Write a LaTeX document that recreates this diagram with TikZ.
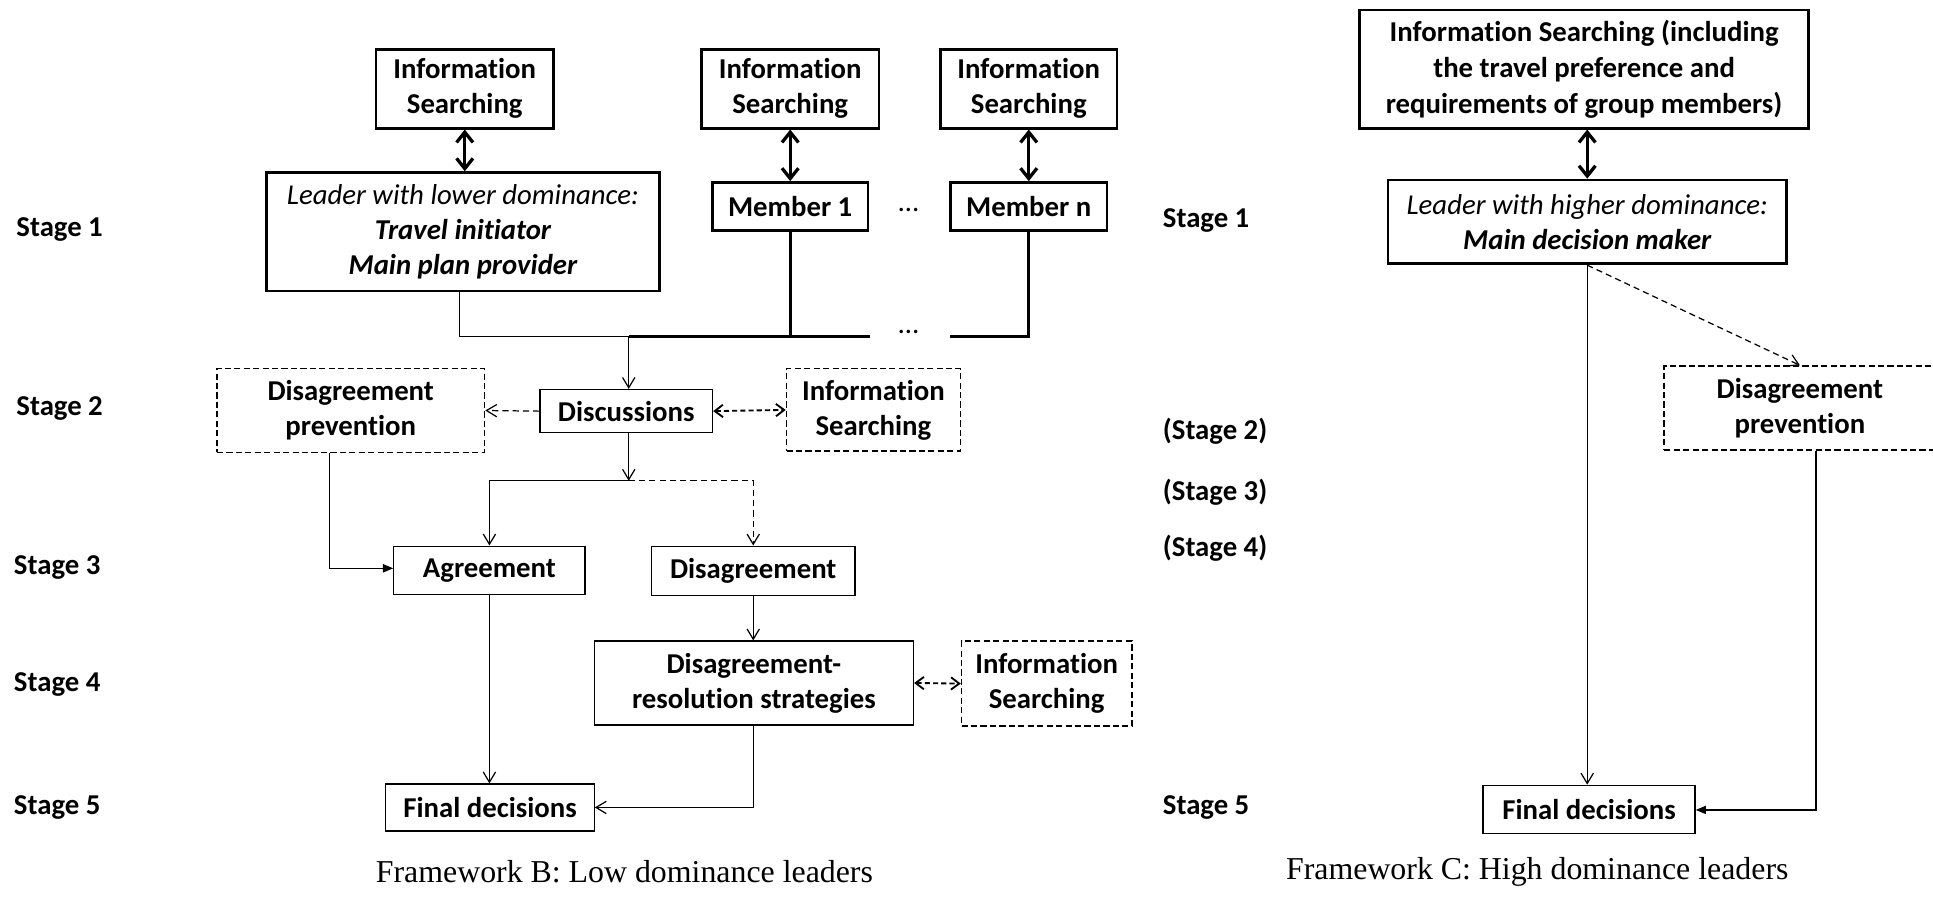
\documentclass[tikz,border=0pt]{standalone}
\usepackage{fontspec}
\setmainfont{Carlito}[Ligatures=NoCommon]
\newfontfamily\capfont{Liberation Serif}
\usetikzlibrary{arrows.meta}
\begin{document}
\begin{tikzpicture}[x=0.6pt,y=-0.6pt,
  every node/.style={font=\fontsize{14}{17}\selectfont\bfseries, inner sep=0pt, align=center},
  sz/.style 2 args={minimum width={#1*0.6pt}, minimum height={#2*0.6pt}},
  tbox/.style={draw, line width=1.3pt},
  nbox/.style={draw, line width=0.6pt},
  dbox/.style={draw, line width=0.8pt, dash pattern=on 3pt off 1.6pt},
  conn/.style={line width=0.6pt},
  thk/.style={line width=1.6pt},
  arr/.style={line width=0.6pt, -{Straight Barb[length=5pt,width=6pt]}},
  arrF/.style={line width=0.6pt, -{Triangle[length=5pt,width=4pt]}},
  dsh/.style={dash pattern=on 3pt off 2pt},
  dblarr/.style={line width=1.6pt, {Straight Barb[length=5pt,width=8pt]}-{Straight Barb[length=5pt,width=8pt]}},
  ddarr/.style={line width=0.9pt, dash pattern=on 2.5pt off 1.5pt, {Straight Barb[length=4pt,width=6pt]}-{Straight Barb[length=4pt,width=6pt]}},
  stagelbl/.style={anchor=west},
  captxt/.style={font=\capfont\fontsize{15.5}{18}\selectfont}
]
\useasboundingbox (0,0) rectangle (1568,746);

% ---------- Framework B ----------
\node[tbox, sz={144}{64}] (is1) at (377,72) {Information\\Searching};
\node[tbox, sz={144}{64}] (is2) at (641,72) {Information\\Searching};
\node[tbox, sz={143}{64}] (is3) at (834.5,72) {Information\\Searching};
\node[tbox, sz={319}{96}] (lead) at (375.5,188)
  {{\normalfont\itshape Leader with lower dominance:}\\ \itshape Travel initiator\\ \itshape Main plan provider};
\node[tbox, sz={126}{39}] (m1) at (641,167.5) {Member 1};
\node[tbox, sz={127}{39}] (mn) at (834.5,167.5) {Member n};
\node[font=\fontsize{14}{17}\selectfont] (dotsA) at (737,170) {…};
\node[font=\fontsize{14}{17}\selectfont] (dotsB) at (737,269) {…};

\draw[dblarr] (is1.south) -- (is1.south |- lead.north);
\draw[dblarr] (is2.south) -- (is2.south |- m1.north);
\draw[dblarr] (is3.south) -- (is3.south |- mn.north);

\coordinate (jA) at (373,273);
\coordinate (jB) at (510,273);
\coordinate (jC) at (706,273);
\coordinate (jD) at (771,273);
\draw[conn] (lead.south -| jA) -- (jA) -- (jB);
\draw[thk] (jB) -- (jC);
\draw[thk] (m1.south) -- (m1.south |- jB);
\draw[thk] (jD) -- (mn.south |- jD) -- (mn.south);

\node[nbox, sz={140}{35}] (disc) at (508,333.5) {Discussions};
\node[dbox, sz={217}{68}] (dp) at (284.5,333) {Disagreement\\prevention};
\node[dbox, sz={141}{67}] (is4) at (708.5,332.5) {Information\\Searching};

\draw[arr] (jB) -- (jB |- disc.north);
\draw[arr, dsh] (disc.west) -- (dp.east);
\draw[ddarr] (disc.east) -- (is4.west);

\node[nbox, sz={155}{39}] (agr) at (397,462.5) {Agreement};
\node[nbox, sz={165}{40}] (dis) at (611,463) {Disagreement};

\coordinate (jE) at (510,390);
\draw[arr] (disc.south -| jE) -- (jE);
\draw[arr] (jE) -| (agr.north);
\draw[arr, dsh] (jE) -| (dis.north);

\coordinate (jF) at (267,461);
\draw[arrF] (dp.south -| jF) -- (jF) -- (jF -| agr.west);

\node[nbox, sz={259}{68}] (drs) at (611.5,554) {Disagreement-\\resolution strategies};
\node[dbox, sz={138}{69}] (is5) at (849,554.5) {Information\\Searching};
\node[nbox, sz={169}{38}] (fd1) at (397.5,655) {Final decisions};

\draw[arr] (dis.south) -- (dis.south |- drs.north);
\draw[ddarr] (drs.east) -- (is5.west);
\draw[arr] (agr.south) -- (agr.south |- fd1.north);
\draw[arr] (drs.south) |- (fd1.east);

\node[stagelbl] (s1) at (13,186) {Stage 1};
\node[stagelbl] (s2) at (13,331) {Stage 2};
\node[stagelbl] (s3) at (11,460) {Stage 3};
\node[stagelbl] (s4) at (11,555) {Stage 4};
\node[stagelbl] (s5) at (11,655) {Stage 5};

\node[captxt] (capB) at (506.5,707) {Framework B: Low dominance leaders};

% ---------- Framework C ----------
\node[stagelbl] (r1) at (943,179) {Stage 1};
\node[stagelbl] (r2) at (943,350) {(Stage 2)};
\node[stagelbl] (r3) at (943,399) {(Stage 3)};
\node[stagelbl] (r4) at (943,445) {(Stage 4)};
\node[stagelbl] (r5) at (943,655) {Stage 5};

\node[tbox, sz={364}{96}, font=\fontsize{14}{17.4}\selectfont\bfseries] (bis) at (1285,56)
  {Information Searching (including\\the travel preference and\\requirements of group members)};
\node[tbox, sz={323}{68}] (lead2) at (1287.5,180)
  {{\normalfont\itshape Leader with higher dominance:}\\ \itshape Main decision maker};
\node[dbox, sz={220}{68}] (dp2) at (1460,331) {Disagreement\\prevention};
\node[nbox, sz={172}{39}] (fd2) at (1289,656.5) {Final decisions};

\draw[dblarr] (lead2.north |- bis.south) -- (lead2.north);
\draw[arr] (lead2.south) -- (lead2.south |- fd2.north);
\draw[arr, dsh] (lead2.south) -- (dp2.north);
\coordinate (jG) at (1473,657);
\draw[arrF] (dp2.south -| jG) -- (jG) -- (jG -| fd2.east);

\node[captxt] (capC) at (1247,707) {Framework C: High dominance leaders};
\end{tikzpicture}
\end{document}
